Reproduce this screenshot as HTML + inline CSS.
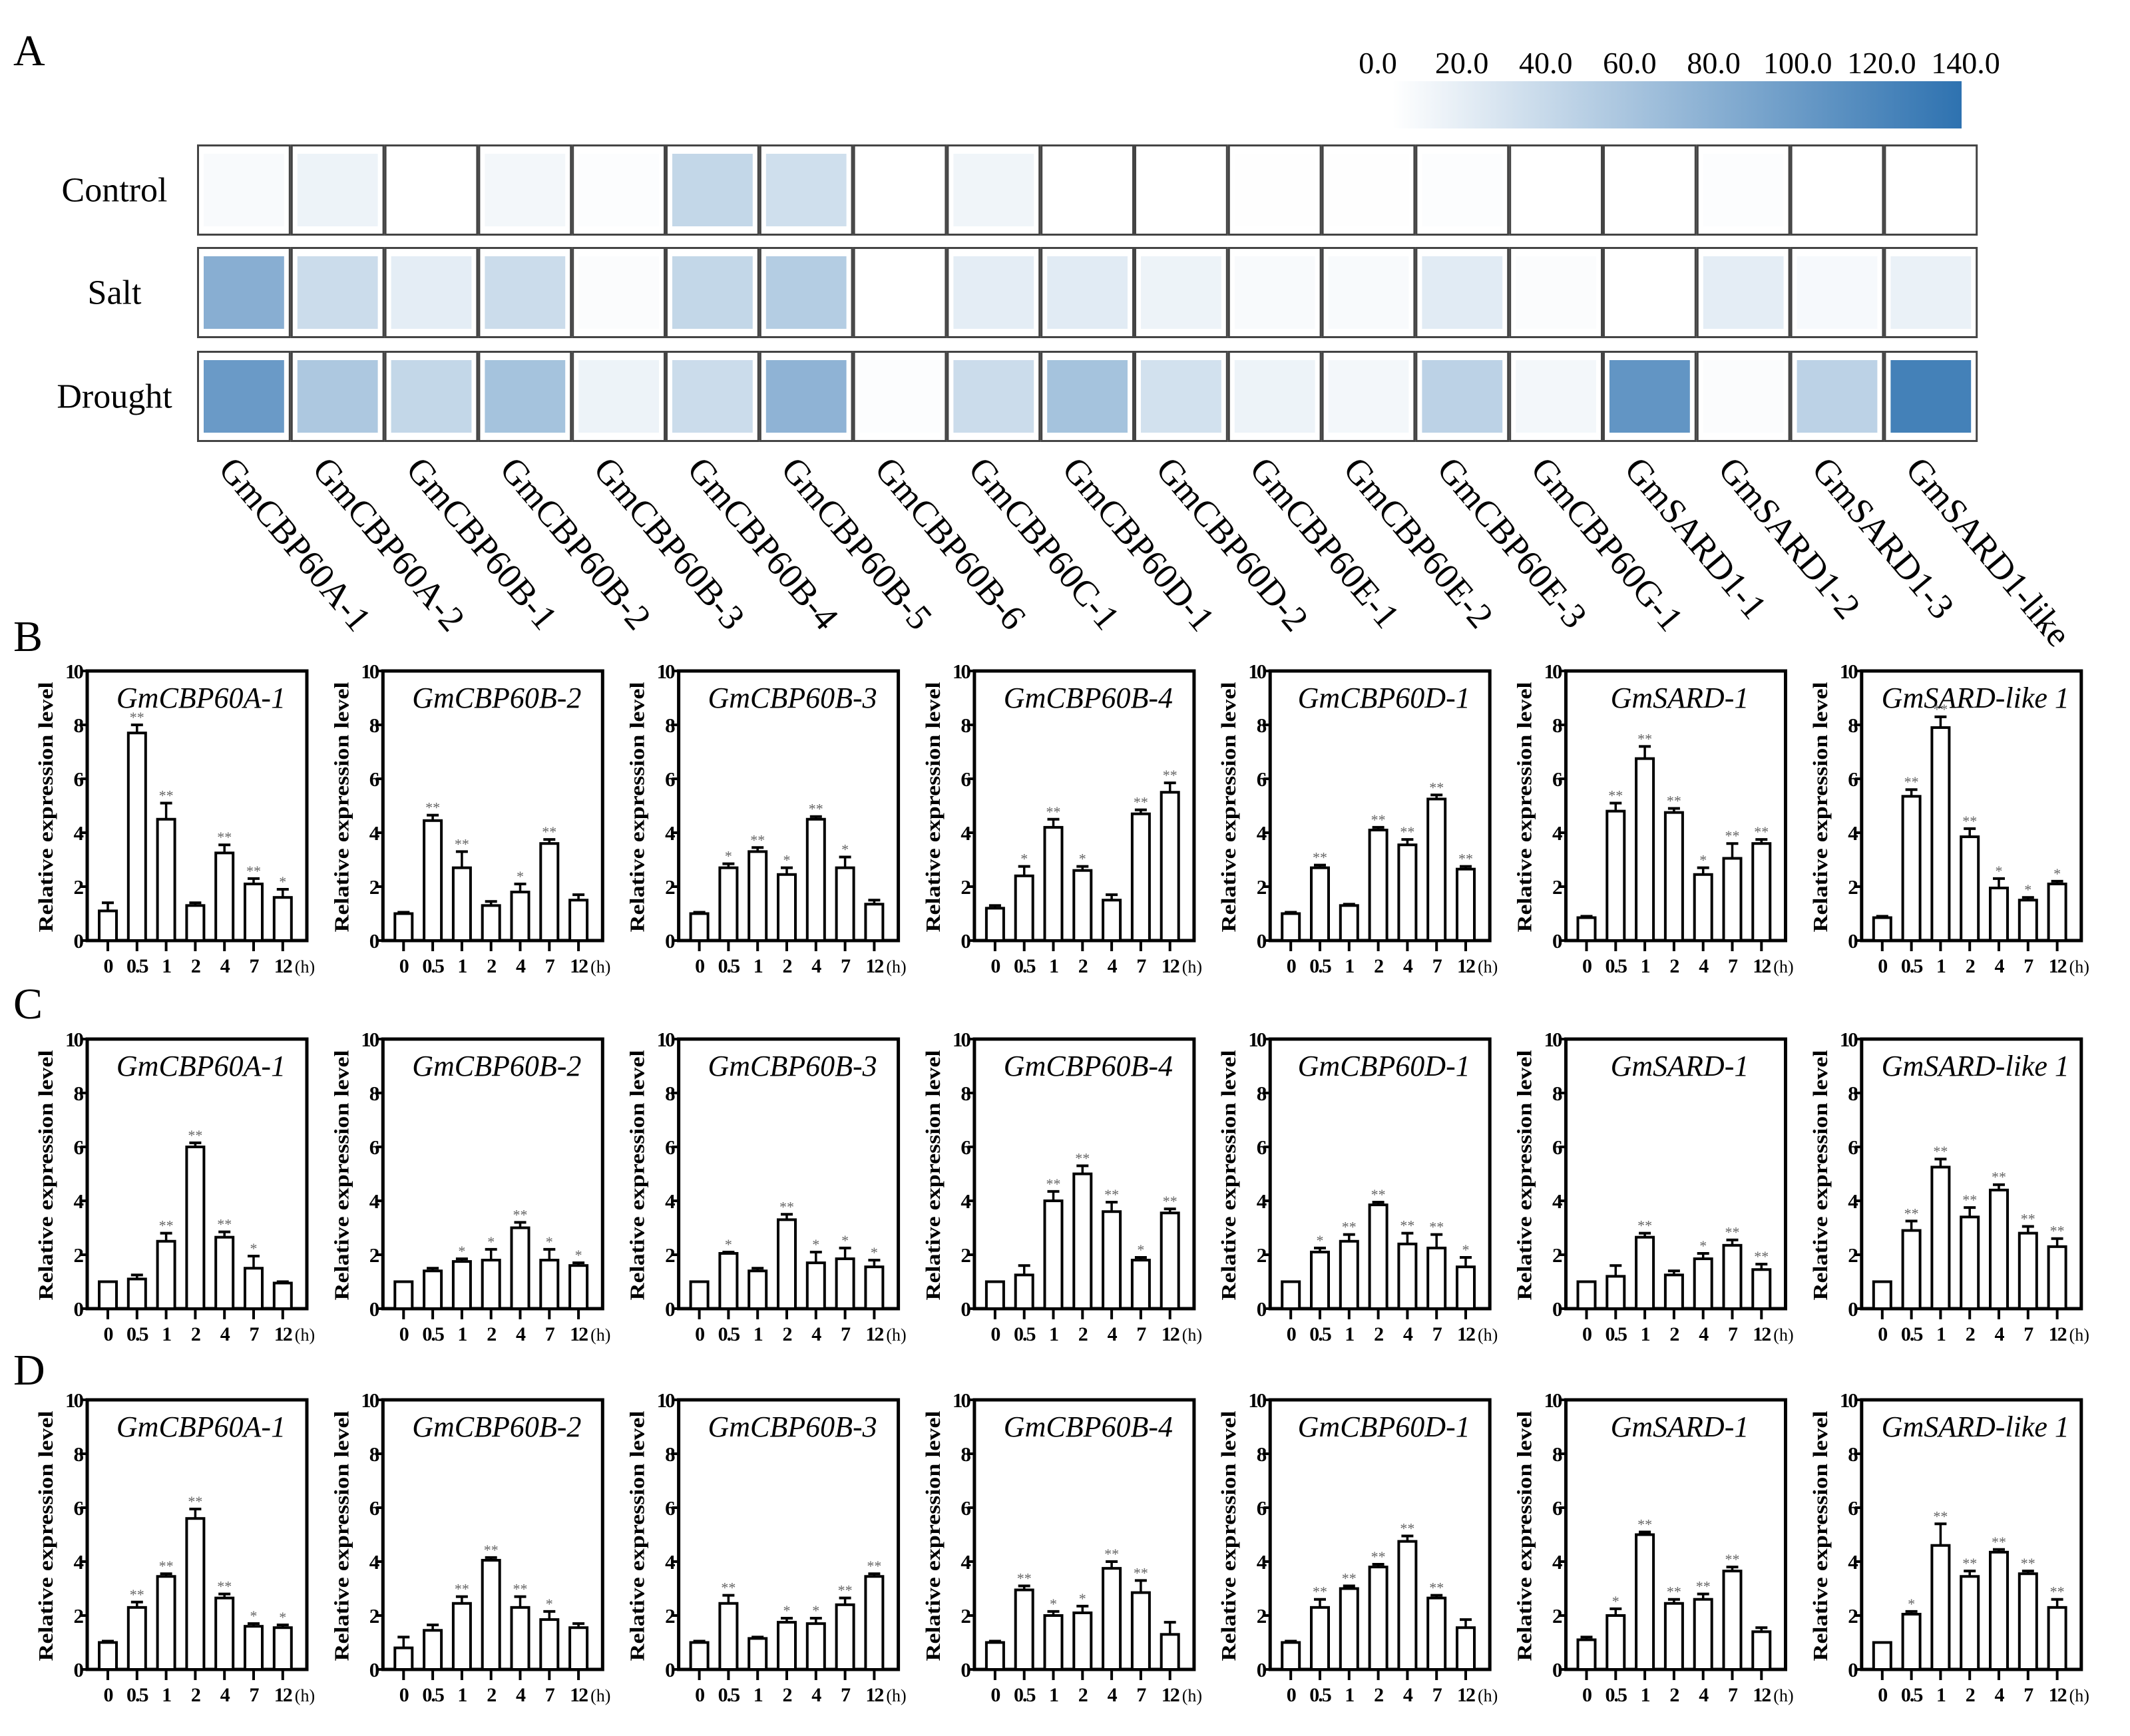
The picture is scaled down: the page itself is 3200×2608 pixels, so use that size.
<!DOCTYPE html>
<html><head><meta charset="utf-8"><style>
html,body{margin:0;padding:0;background:#fff;}
svg{display:block;}
text{font-family:"Liberation Serif",serif;}
</style></head><body>
<svg id="fig" width="3200" height="2608" viewBox="0 0 3200 2608" xmlns="http://www.w3.org/2000/svg">
<rect x="0" y="0" width="3200" height="2608" fill="#fff"/>
<defs><linearGradient id="cg" x1="0" x2="1" y1="0" y2="0"><stop offset="0" stop-color="#ffffff"/><stop offset="1" stop-color="#2e72b0"/></linearGradient></defs>
<text x="20" y="98" font-size="66">A</text>
<text x="20" y="978" font-size="66">B</text>
<text x="20" y="1530" font-size="66">C</text>
<text x="20" y="2080" font-size="66">D</text>
<g id="heat"></g>
<g id="bars"></g>
</svg>
<script>
const genes=["GmCBP60A-1","GmCBP60A-2","GmCBP60B-1","GmCBP60B-2","GmCBP60B-3","GmCBP60B-4","GmCBP60B-5","GmCBP60B-6","GmCBP60C-1","GmCBP60D-1","GmCBP60D-2","GmCBP60E-1","GmCBP60E-2","GmCBP60E-3","GmCBP60G-1","GmSARD1-1","GmSARD1-2","GmSARD1-3","GmSARD1-like"];
const conditions=["Control","Salt","Drought"];
const controlVals=[5,12,0,8,2,40,32,0,10,0,0,1,1,2,0,0,2,0,0];
const saltVals=[80,35,18,35,3,40,50,0,18,20,12,5,5,20,3,0,18,6,14];
const droughtVals=[100,55,40,60,12,35,75,2,35,60,30,12,8,45,8,105,3,45,125];
const colorTicks=["0.0","20.0","40.0","60.0","80.0","100.0","120.0","140.0"];
const heatVals=[controlVals,saltVals,droughtVals];

const times=["0","0.5","1","2","4","7","12"];
const titles=["GmCBP60A-1","GmCBP60B-2","GmCBP60B-3","GmCBP60B-4","GmCBP60D-1","GmSARD-1","GmSARD-like 1"];
const yTicks=[0,2,4,6,8,10];
const bMeans=[[1.1,7.7,4.5,1.3,3.25,2.1,1.6],[1.0,4.45,2.7,1.3,1.8,3.6,1.5],[1.0,2.7,3.3,2.45,4.5,2.7,1.35],[1.2,2.4,4.2,2.6,1.5,4.7,5.5],[1.0,2.7,1.3,4.1,3.55,5.25,2.65],[0.85,4.8,6.75,4.75,2.45,3.05,3.6],[0.85,5.35,7.9,3.85,1.95,1.5,2.1]];
const bErr=[[0.3,0.3,0.6,0.1,0.3,0.2,0.3],[0.05,0.2,0.6,0.15,0.3,0.15,0.2],[0.05,0.15,0.15,0.25,0.1,0.4,0.15],[0.1,0.35,0.3,0.15,0.2,0.15,0.35],[0.05,0.1,0.05,0.1,0.2,0.15,0.1],[0.05,0.3,0.45,0.15,0.25,0.55,0.15],[0.05,0.25,0.4,0.3,0.35,0.1,0.1]];
const bSig=[["","**","**","","**","**","*"],["","**","**","","*","**",""],["","*","**","*","**","*",""],["","*","**","*","","**","**"],["","**","","**","**","**","**"],["","**","**","**","*","**","**"],["","**","**","**","*","*","*"]];
const cMeans=[[1.0,1.1,2.5,6.0,2.65,1.5,0.95],[1.0,1.4,1.75,1.8,3.0,1.8,1.6],[1.0,2.05,1.4,3.3,1.7,1.85,1.55],[1.0,1.25,4.0,5.0,3.6,1.8,3.55],[1.0,2.1,2.5,3.85,2.4,2.25,1.55],[1.0,1.2,2.65,1.25,1.85,2.35,1.45],[1.0,2.9,5.25,3.4,4.4,2.8,2.3]];
const cErr=[[0,0.15,0.3,0.15,0.2,0.45,0.05],[0,0.1,0.1,0.4,0.2,0.4,0.1],[0,0.05,0.1,0.2,0.4,0.4,0.25],[0,0.35,0.35,0.3,0.35,0.1,0.15],[0,0.15,0.25,0.1,0.4,0.5,0.35],[0,0.4,0.15,0.15,0.2,0.2,0.2],[0,0.35,0.3,0.35,0.2,0.25,0.3]];
const cSig=[["","","**","**","**","*",""],["","","*","*","**","*","*"],["","*","","**","*","*","*"],["","","**","**","**","*","**"],["","*","**","**","**","**","*"],["","","**","","*","**","**"],["","**","**","**","**","**","**"]];
const dMeans=[[1.0,2.3,3.45,5.6,2.65,1.6,1.55],[0.8,1.45,2.45,4.05,2.3,1.85,1.55],[1.0,2.45,1.15,1.75,1.7,2.4,3.45],[1.0,2.95,2.0,2.1,3.75,2.85,1.3],[1.0,2.3,3.0,3.8,4.75,2.65,1.55],[1.1,2.0,5.0,2.45,2.6,3.65,1.4],[1.0,2.05,4.6,3.45,4.35,3.55,2.3]];
const dErr=[[0.05,0.2,0.1,0.35,0.15,0.1,0.1],[0.4,0.2,0.25,0.1,0.4,0.3,0.15],[0.05,0.3,0.05,0.15,0.2,0.25,0.1],[0.05,0.15,0.15,0.25,0.25,0.45,0.45],[0.05,0.3,0.1,0.1,0.2,0.1,0.3],[0.1,0.25,0.1,0.15,0.2,0.15,0.15],[0,0.1,0.8,0.2,0.1,0.1,0.3]];
const dSig=[["","**","**","**","**","*","*"],["","","**","**","**","*",""],["","**","","*","*","**","**"],["","**","*","*","**","**",""],["","**","**","**","**","**",""],["","*","**","**","**","**",""],["","*","**","**","**","**","**"]];

const NS="http://www.w3.org/2000/svg";
function mk(tag,attrs,parent){const e=document.createElementNS(NS,tag);for(const k in attrs)e.setAttribute(k,attrs[k]);parent.appendChild(e);return e;}

const heat=document.getElementById('heat');
const hx0=296,cw=140.8,rowTops=[217,371,527],rh=137,vmax=140;
function col(v){const t=Math.max(0,Math.min(1,v/vmax));const a=[255,255,255],b=[46,114,176];return `rgb(${a.map((c,i)=>Math.round(c+(b[i]-c)*t)).join(',')})`;}
const cb=mk('rect',{x:2092,y:122,width:855,height:71,fill:'url(#cg)'},heat);


colorTicks.forEach((s,i)=>{const t=mk('text',{x:2070+i*(2953-2070)/7,y:110,'font-size':46,'text-anchor':'middle'},heat);t.textContent=s;

});
conditions.forEach((c,r)=>{
 const t=mk('text',{x:172,y:rowTops[r]+rh/2+17,'font-size':52,'text-anchor':'middle'},heat);t.textContent=c;
 
 
 genes.forEach((g,j)=>{
  const x=hx0+j*cw;
  const o=mk('rect',{x:x+1.5,y:rowTops[r]+1.5,width:cw-3,height:rh-3,fill:'#fff',stroke:'#444','stroke-width':3},heat);
  
  
  const cell=mk('rect',{x:x+10,y:rowTops[r]+14,width:cw-20,height:rh-28,fill:col(heatVals[r][j])},heat);
  
  
 });
});
genes.forEach((g,j)=>{
 const cx=hx0+j*cw+cw/2-40, cy=706;
 const t=mk('text',{x:cx,y:cy,'font-size':54,transform:`rotate(50 ${cx} ${cy})`},heat);t.textContent=g;
 
 
});

const bars=document.getElementById('bars');
const rows=[{m:bMeans,e:bErr,s:bSig,bottom:1413},{m:cMeans,e:cErr,s:cSig,bottom:1966},{m:dMeans,e:dErr,s:dSig,bottom:2508}];
const pL0=131,pStep=444.3,pW=330,pH=405;
rows.forEach((row,ri)=>{
 for(let p=0;p<7;p++){
  const L=pL0+p*pStep,B=row.bottom,T=B-pH;
  const g=mk('g',{},bars);
  
  
  const y=v=>B-v/10*pH;
  const xc=i=>L+31+i*43.8;
  const fr=mk('rect',{x:L,y:T,width:pW,height:pH,fill:'none',stroke:'#000','stroke-width':5},g);
  
  
  yTicks.forEach(v=>{mk('line',{x1:L-10,x2:L,y1:y(v),y2:y(v),stroke:'#000','stroke-width':4},g);
   const t=mk('text',{x:L-8,y:y(v)+11,'font-size':31,'font-weight':'bold','text-anchor':'end','letter-spacing':'-3'},g);t.textContent=v;
   
   });
  const yt=mk('text',{x:0,y:0,'font-size':31,'font-weight':'bold','text-anchor':'middle',transform:`translate(${L-52} ${T+pH/2+2}) rotate(-90)`,textLength:376,lengthAdjust:'spacingAndGlyphs'},g);
  yt.textContent='Relative expression level';
  
  
  const tt=mk('text',{x:L+pW/2+6,y:T+55,'font-size':44,'font-style':'italic','text-anchor':'middle'},g);tt.textContent=titles[p];
  
  
  times.forEach((tm,i)=>{
   const v=row.m[p][i],er=row.e[p][i],x=xc(i);
   mk('line',{x1:x,x2:x,y1:B,y2:B+16,stroke:'#000','stroke-width':4},g);
   const tl=mk('text',{x:x,y:B+48,'font-size':30,'font-weight':'bold','text-anchor':'middle','letter-spacing':'-2'},g);tl.textContent=tm;
   
   
   if(er>0){mk('line',{x1:x,x2:x,y1:y(v),y2:y(v+er),stroke:'#000','stroke-width':3.5},g);
    mk('line',{x1:x-9,x2:x+9,y1:y(v+er),y2:y(v+er),stroke:'#000','stroke-width':4},g);}
   const r=mk('rect',{x:x-13,y:y(v),width:26,height:B-y(v),fill:'#fff',stroke:'#000','stroke-width':4},g);
   
   
   if(row.s[p][i]){const st=mk('text',{x:x,y:y(v+er)-4,'font-size':22,fill:'#666','text-anchor':'middle'},g);st.textContent=row.s[p][i];
    
    }
  });
  const h=mk('text',{x:xc(6)+18,y:B+48,'font-size':26,'text-anchor':'start'},g);h.textContent='(h)';
  
  
 }
});
</script>
</body></html>
